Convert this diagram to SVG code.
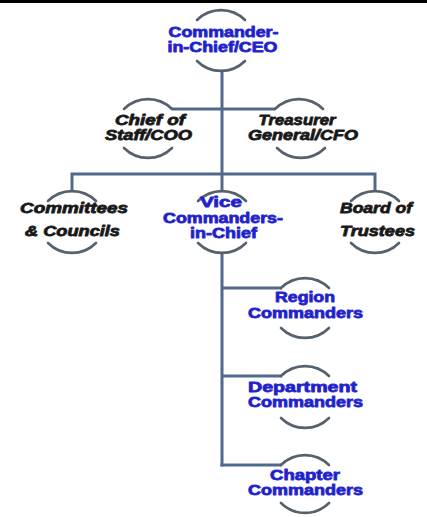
<svg xmlns="http://www.w3.org/2000/svg" width="427" height="517" viewBox="0 0 427 517">
<style>
.arc{fill:none;stroke:#56616e;stroke-width:2.6;stroke-linecap:round}
.con{fill:none;stroke:#4f6a8c;stroke-width:3}
.b{font-family:"Liberation Sans",Arial,sans-serif;font-weight:bold;font-size:14px;fill:#1c1cc4;text-anchor:middle;stroke:#2a2ad0;stroke-width:0.8;stroke-linejoin:round}
.k{font-family:"Liberation Sans",Arial,sans-serif;font-weight:bold;font-style:italic;font-size:14px;fill:#141414;text-anchor:middle;stroke:#202020;stroke-width:0.8;stroke-linejoin:round}
</style>
<rect x="0" y="0" width="427" height="517" fill="#ffffff"/>
<rect x="0" y="0" width="427" height="3" fill="#000000"/>
<g id="connectors">
<path class="con" d="M222,71 V174"/>
<path class="con" d="M172,109 H275"/>
<path class="con" d="M72,191 V174 H375 V191"/>
<path class="con" d="M222,174 V191"/>
<path class="con" d="M222,253 V466.5"/>
<path class="con" d="M222,288 H282"/>
<path class="con" d="M222,376 H282"/>
<path class="con" d="M220.5,465 H282"/>
</g>
<g id="ceo">
<path class="arc" d="M197,20 A34,34 0 0 1 245,20"/>
<path class="arc" d="M197,61 A34,34 0 0 0 245,61"/>
<text class="b" x="223.5" y="37" textLength="110" lengthAdjust="spacingAndGlyphs">Commander-</text>
<text class="b" x="222.5" y="52" textLength="110" lengthAdjust="spacingAndGlyphs">in-Chief/CEO</text>
</g>
<g id="chief-of-staff">
<path class="arc" d="M124,109 A34,34 0 0 1 172,109"/>
<path class="arc" d="M124,148 A34,34 0 0 0 172,148"/>
<text class="k" x="150" y="125" textLength="70" lengthAdjust="spacingAndGlyphs">Chief of</text>
<text class="k" x="148.5" y="140" textLength="87" lengthAdjust="spacingAndGlyphs">Staff/COO</text>
</g>
<g id="treasurer">
<path class="arc" d="M275,109 A34,34 0 0 1 323,109"/>
<path class="arc" d="M277,148 A34,34 0 0 0 325,148"/>
<text class="k" x="297" y="125" textLength="77" lengthAdjust="spacingAndGlyphs">Treasurer</text>
<text class="k" x="303" y="140" textLength="110" lengthAdjust="spacingAndGlyphs">General/CFO</text>
</g>
<g id="committees">
<path class="arc" d="M48,201 A34,34 0 0 1 96,201"/>
<path class="arc" d="M48,243 A34,34 0 0 0 96,243"/>
<text class="k" x="74" y="213" textLength="108" lengthAdjust="spacingAndGlyphs">Committees</text>
<text class="k" x="72.5" y="236" textLength="95" lengthAdjust="spacingAndGlyphs">&amp; Councils</text>
</g>
<g id="vice">
<path class="arc" d="M198,201 A34,34 0 0 1 246,201"/>
<path class="arc" d="M198,243 A34,34 0 0 0 246,243"/>
<text class="b" x="221" y="207" textLength="42" lengthAdjust="spacingAndGlyphs">Vice</text>
<text class="b" x="223" y="223" textLength="120" lengthAdjust="spacingAndGlyphs">Commanders-</text>
<text class="b" x="223.5" y="238" textLength="67" lengthAdjust="spacingAndGlyphs">in-Chief</text>
</g>
<g id="board">
<path class="arc" d="M351,201 A34,34 0 0 1 399,201"/>
<path class="arc" d="M351,243 A34,34 0 0 0 399,243"/>
<text class="k" x="376" y="213" textLength="72" lengthAdjust="spacingAndGlyphs">Board of</text>
<text class="k" x="377.5" y="236" textLength="75" lengthAdjust="spacingAndGlyphs">Trustees</text>
</g>
<g id="region">
<path class="arc" d="M281,288 A34,34 0 0 1 329,288"/>
<path class="arc" d="M281,328 A34,34 0 0 0 329,328"/>
<text class="b" x="305" y="302" textLength="60" lengthAdjust="spacingAndGlyphs">Region</text>
<text class="b" x="305.5" y="318" textLength="115" lengthAdjust="spacingAndGlyphs">Commanders</text>
</g>
<g id="department">
<path class="arc" d="M281,376 A34,34 0 0 1 329,376"/>
<path class="arc" d="M281,418 A34,34 0 0 0 329,418"/>
<text class="b" x="302.5" y="392" textLength="109" lengthAdjust="spacingAndGlyphs">Department</text>
<text class="b" x="305.5" y="407" textLength="115" lengthAdjust="spacingAndGlyphs">Commanders</text>
</g>
<g id="chapter">
<path class="arc" d="M281,465 A34,34 0 0 1 329,465"/>
<path class="arc" d="M281,503 A34,34 0 0 0 329,503"/>
<text class="b" x="305" y="480" textLength="70" lengthAdjust="spacingAndGlyphs">Chapter</text>
<text class="b" x="305.5" y="495" textLength="115" lengthAdjust="spacingAndGlyphs">Commanders</text>
</g>
</svg>
